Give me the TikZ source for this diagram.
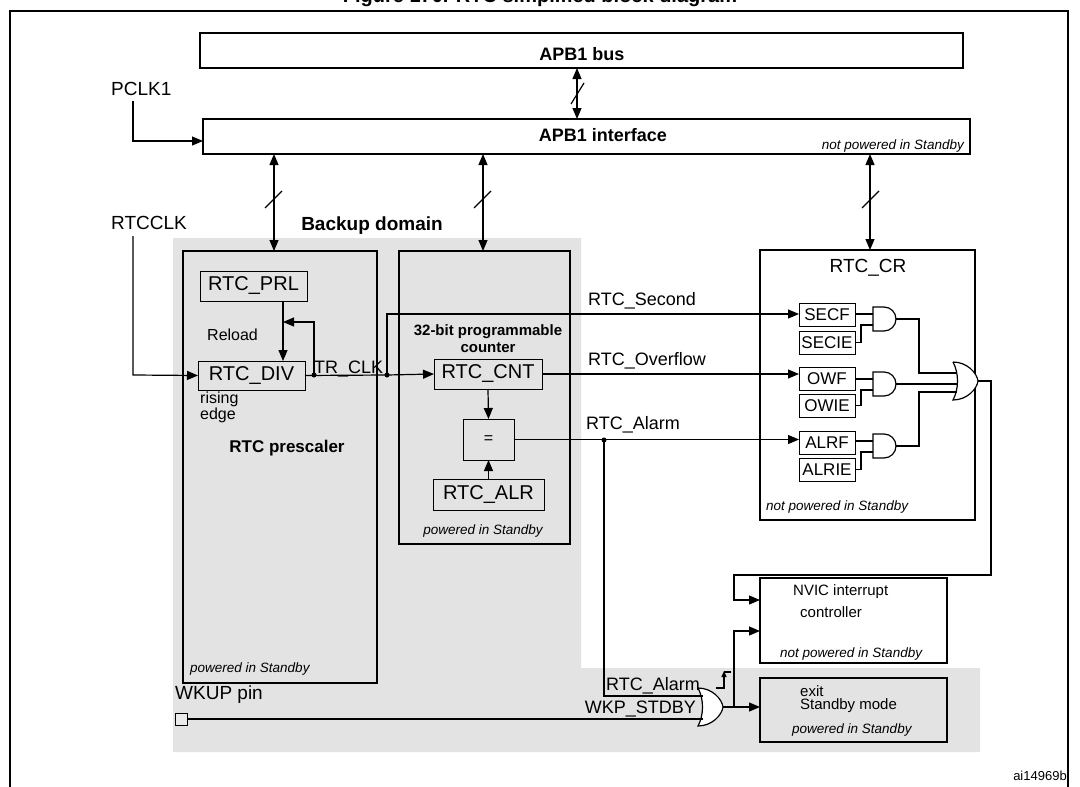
\documentclass[tikz,border=0pt]{standalone}
\usepackage{fontspec}
\setmainfont{Liberation Sans}
\usetikzlibrary{arrows.meta}
\begin{document}
\begin{tikzpicture}[x=1pt,y=-1pt,
  box/.style={draw,line width=1.5pt,inner sep=0,outer sep=0,anchor=north west},
  reg/.style={draw,line width=1pt,inner sep=0,outer sep=0,anchor=north west,font=\fontsize{20}{22}\selectfont},
  sreg/.style={draw,line width=1pt,inner sep=0,outer sep=0,anchor=north west,font=\fontsize{17}{19}\selectfont,minimum width=56pt,minimum height=23pt},
  lbl/.style={inner sep=0,font=\fontsize{18}{20}\selectfont},
  bl/.style={inner sep=0,font=\bfseries\fontsize{18}{20}\selectfont},
  it/.style={inner sep=0,font=\itshape\fontsize{13.5}{15}\selectfont},
  sm/.style={inner sep=0,font=\fontsize{15}{17}\selectfont,align=left},
  wire/.style={line width=1.2pt},
  arr/.style={wire,-{Triangle[length=11pt,width=9pt]}},
  darr/.style={wire,{Triangle[length=11pt,width=9pt]}-{Triangle[length=11pt,width=9pt]}},
  andg/.pic={\draw[wire,fill=white] (0,-12) -- (11,-12) arc[start angle=-90,end angle=90,radius=12] -- (0,12) -- cycle;},
  org/.pic={\draw[wire,fill=white] (0,-19) .. controls (14,-19) and (24,-8) .. (25,0) .. controls (24,8) and (14,19) .. (0,19) .. controls (6,8) and (6,-8) .. (0,-19);}
]
\useasboundingbox (0,0) rectangle (1080,787);
\clip (0,0) rectangle (1080,787);
\node[font=\bfseries\fontsize{20}{22}\selectfont,inner sep=0] (title) at (540,-3) {Figure 170. RTC simplified block diagram};
\draw[line width=1.5pt] (10,800) -- (10,11) -- (1068,11) -- (1068,800);
\node[inner sep=0,font=\fontsize{13}{15}\selectfont] (ref) at (1040,776) {ai14969b};
% backup domain
\fill[black!11] (173,238) -- (581,238) -- (581,668) -- (980,668) -- (980,752) -- (173,752) -- cycle;
\node[bl,font=\bfseries\fontsize{19}{21}\selectfont] (bd) at (372,226) {Backup domain};
% bus
\node[box,minimum width=763pt,minimum height=35pt] (bus) at (200,33) {};
\node[bl] at (582,54) {APB1 bus};
\node[box,minimum width=767pt,minimum height=35pt] (apb) at (203,119) {};
\node[bl] at (603,135) {APB1 interface};
\node[it,anchor=east] at (964,146) {not powered in Standby};
\draw[darr] (577,68) -- (577,119);
\draw[wire] (571,104) -- (584,83);
\node[lbl,font=\fontsize{19}{21}\selectfont,anchor=west] (pclk) at (111,89) {PCLK1};
\draw[arr] (133,101) -- (133,141) -- (apb.west|-0,141);
\node[lbl,font=\fontsize{19}{21}\selectfont,anchor=west] (rtcclk) at (111,223) {RTCCLK};
% prescaler
\node[box,fill=black!11,minimum width=194pt,minimum height=432pt] (pre) at (183,251) {};
\node[it,anchor=west] at (190,669) {powered in Standby};
\node[bl,font=\bfseries\fontsize{17}{19}\selectfont] at (287,448) {RTC prescaler};
\node[reg,minimum width=107pt,minimum height=30pt] (prl) at (200,271) {RTC\_PRL};
\node[reg,minimum width=107pt,minimum height=29pt] (div) at (198,361) {RTC\_DIV};
\draw[arr] (133,236) -- (133,375) -- (div.west);
\node[sm,font=\fontsize{16}{18}\selectfont,anchor=west] at (207,335) {Reload};
\node[sm,font=\fontsize{16}{18}\selectfont,anchor=north west] at (200,392) {rising\\[-2pt]edge};
\draw[arr] (prl.south-|283,0) -- (div.north-|283,0);
\coordinate (d1) at (314,375);
\coordinate (d2) at (387,375);
\fill (d1) circle (2.5pt); \fill (d2) circle (2.5pt);
\draw[arr] (d1) -- (314,322) -- (283,322);
\node[lbl,anchor=south west] at (314,377) {TR\_CLK};
\draw[darr] (274,154) -- (274,251);
\draw[wire] (265,208) -- (282,191);
% counter
\node[box,fill=black!11,minimum width=171pt,minimum height=293pt] (cntb) at (399,251) {};
\node[it] at (483,531) {powered in Standby};
\node[bl,align=center,font=\bfseries\fontsize{15}{17}\selectfont] at (488,339) {32-bit programmable\\counter};
\node[reg,minimum width=108pt,minimum height=30pt] (cnt) at (434,359) {RTC\_CNT};
\node[reg,font=\fontsize{16}{18}\selectfont,minimum width=51pt,minimum height=41pt] (eq) at (463,419) {=};
\node[reg,minimum width=111pt,minimum height=31pt] (alr) at (433,479) {RTC\_ALR};
\draw[arr] (cnt.south) -- (eq.north);
\draw[arr] (alr.north) -- (eq.south);
\draw[darr] (483,154) -- (483,251);
\draw[wire] (474,208) -- (491,191);
\draw[wire] (div.east) -- (d2);
\draw[arr] (d2) -- (cnt.west);
% RTC_CR
\node[box,minimum width=215pt,minimum height=270pt] (cr) at (760,250) {};
\node[lbl,font=\fontsize{19}{21}\selectfont] at (868,268) {RTC\_CR};
\node[it,anchor=west] at (766,507) {not powered in Standby};
\draw[darr] (870,154) -- (870,250);
\draw[wire] (862,208) -- (879,191);
\node[sreg] (secf) at (799,303) {SECF};
\node[sreg] (secie) at (799,331) {SECIE};
\node[sreg] (owf) at (799,367) {OWF};
\node[sreg] (owie) at (799,394) {OWIE};
\node[sreg] (alrf) at (799,431) {ALRF};
\node[sreg] (alrie) at (799,458) {ALRIE};
\draw[arr] (d2) -- (387,314) -- (secf.west|-0,314);
\node[lbl,anchor=west] at (588,301) {RTC\_Second};
\draw[arr] (cnt.east) -- (owf.west|-cnt.east);
\node[lbl,anchor=west] at (588,361) {RTC\_Overflow};
\coordinate (d3) at (604,440);
\draw[arr] (eq.east) -- (alrf.west|-eq.east);
\fill (d3) circle (2.5pt);
\node[lbl,anchor=west] at (586,425) {RTC\_Alarm};
% AND gates
\foreach \f/\e/\y in {secf/secie/319,owf/owie/384,alrf/alrie/446}{
  \draw[wire] (\f.east|-0,\y-5) -- (874,\y-5);
  \draw[wire] (\e.east) -- ++(6,0) |- (874,\y+6);
  \pic at (873,\y) {andg};
}
\pic at (953,381) {org};
\draw[wire] (896,319) -- (919,319) |- (957,373);
\draw[wire] (896,384) -- (957,384);
\draw[wire] (896,446) -- (919,446) |- (957,392);
% NVIC & exit
\node[box,minimum width=187pt,minimum height=85pt] (nvic) at (760,578) {};
\node[sm,anchor=west] at (793,592) {NVIC interrupt};
\node[sm,anchor=west] at (800,612) {controller};
\node[it,anchor=west] at (780,654) {not powered in Standby};
\node[box,fill=black!11,minimum width=187pt,minimum height=64pt] (exit) at (760,678) {};
\node[sm,anchor=west] at (800,691) {exit};
\node[sm,anchor=west] at (800,706) {Standby mode};
\node[it,anchor=west] at (792,730) {powered in Standby};
\draw[arr] (978,381) -- (991,381) -- (991,575) -- (734,575) -- (734,600) -- (nvic.west|-0,600);
% wakeup
\pic at (698,707) {org};
\draw[wire] (d3) -- (604,696) -- (703,696);
\node[lbl,anchor=south west] at (606,694) {RTC\_Alarm};
\node[lbl,font=\fontsize{19}{21}\selectfont,anchor=west] at (175,695) {WKUP pin};
\node[draw,line width=1pt,fill=black!8,minimum size=12pt,inner sep=0] (wk) at (181,719) {};
\draw[wire] (wk.east) -- (703,719);
\node[lbl,anchor=south east] at (696,717) {WKP\_STDBY};
\coordinate (oo) at (734,707);
\draw[wire] (723,707) -- (oo);
\draw[arr] (oo) -- (exit.west|-oo);
\draw[arr] (oo) -- (734,631) -- (nvic.west|-0,631);
\draw[wire,-{Triangle[length=6pt,width=5pt]}] (716,688) -- (724,688) -- (724,671);
\draw[wire] (724,672) -- (731,672);
\end{tikzpicture}
\end{document}
